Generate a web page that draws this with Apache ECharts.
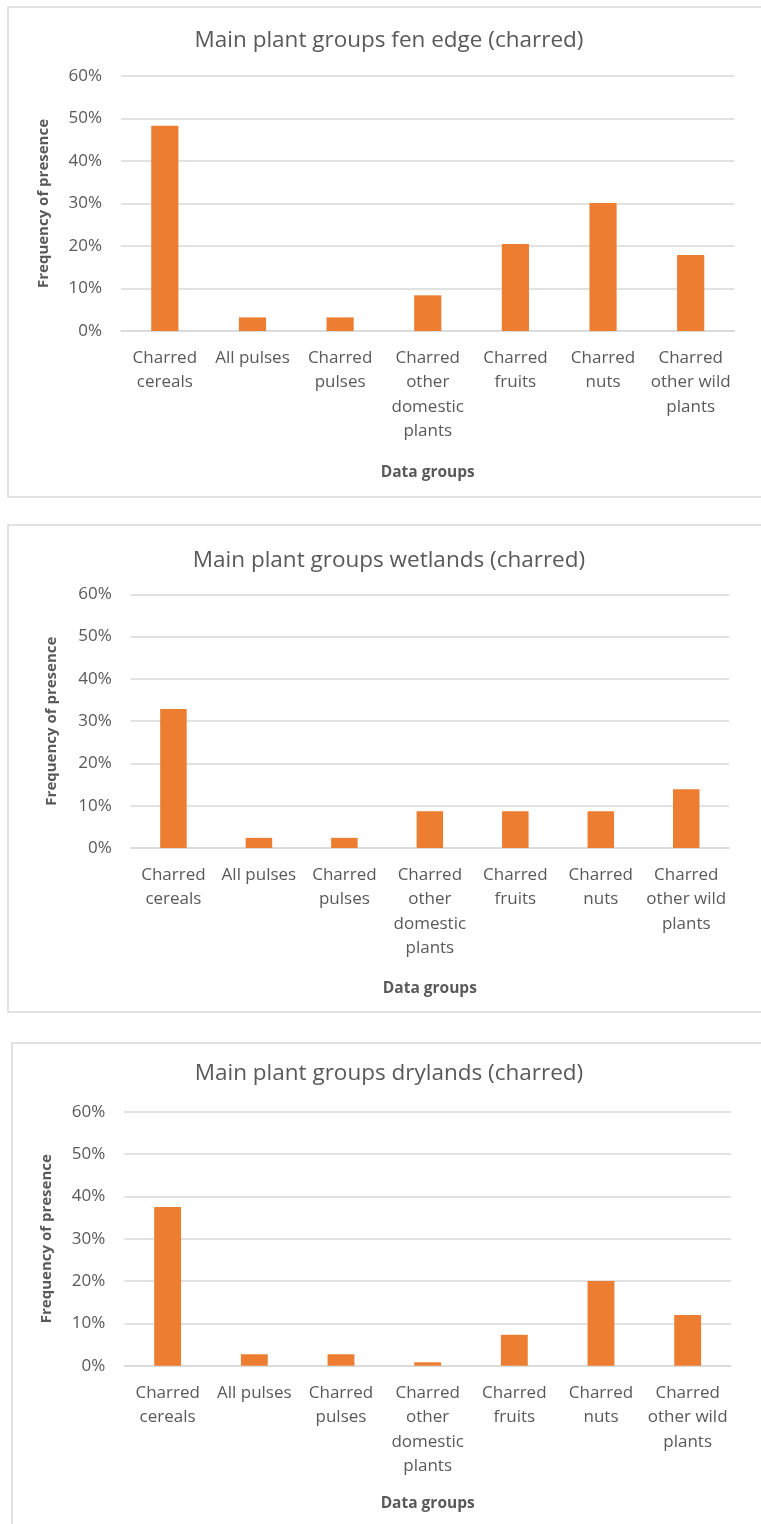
<!DOCTYPE html>
<html>
<head>
<meta charset="utf-8">
<title>Main plant groups (charred)</title>
<script src="https://cdn.jsdelivr.net/npm/echarts@6/dist/echarts.min.js"></script>
<style>
  html, body { margin: 0; padding: 0; background: #ffffff; }
  #chart { width: 761px; height: 1524px; }
</style>
</head>
<body>
<div id="chart"></div>
<script>
// Category labels (line breaks as shown under each bar)
const categories = [
  'Charred\ncereals',
  'All pulses',
  'Charred\npulses',
  'Charred\nother\ndomestic\nplants',
  'Charred\nfruits',
  'Charred\nnuts',
  'Charred\nother wild\nplants'
];

// Frequency of presence (%) per landscape zone
const fenEdge  = [48.3, 3.2, 3.2, 8.4, 20.5, 30.1, 17.9];
const wetlands = [32.9, 2.4, 2.4, 8.7, 8.7, 8.7, 13.9];
const drylands = [37.5, 2.7, 2.7, 0.8, 7.3, 20.0, 12.0];

const titles = [
  'Main plant groups fen edge (charred)',
  'Main plant groups wetlands (charred)',
  'Main plant groups drylands (charred)'
];
const yAxisTitle = 'Frequency of presence';
const xAxisTitle = 'Data groups';

// Value axis range (percent)
const yMin = 0, yMax = 60, yStep = 10;

const FONT = '"Open Sans", "Noto Sans", sans-serif';
const TEXT = '#595959';
const GRID_LINE = '#d9d9d9';
const BAR = '#ED7D31';

// Panel layout: frame box, plot area and label offsets
const panels = [
  { data: fenEdge,  box: { x: 8,  y: 7,    h: 490 }, titleY: 29,   grid: { left: 121,   top: 76,    width: 613.5, height: 255 },   nameGap: 70, xNameGap: 134 },
  { data: wetlands, box: { x: 8,  y: 525,  h: 487 }, titleY: 549,  grid: { left: 130.7, top: 594.3, width: 598.3, height: 253.7 }, nameGap: 71, xNameGap: 133 },
  { data: drylands, box: { x: 12, y: 1043, h: 520 }, titleY: 1062, grid: { left: 124.3, top: 1111.7, width: 606.7, height: 254 }, nameGap: 70, xNameGap: 130 }
];

const chart = echarts.init(document.getElementById('chart'), null, { renderer: 'canvas' });

const option = {
  animation: false,
  backgroundColor: '#ffffff',
  textStyle: { fontFamily: FONT },
  title: panels.map((p, i) => ({
    text: titles[i],
    left: 389,
    textAlign: 'center',
    top: p.titleY,
    padding: 0,
    textStyle: { fontFamily: FONT, fontSize: 22.5, fontWeight: 'normal', color: TEXT }
  })),
  graphic: panels.map(p => ({
    type: 'rect',
    silent: true,
    z: -1,
    shape: { x: p.box.x, y: p.box.y, width: 800, height: p.box.h },
    style: { fill: 'none', stroke: GRID_LINE, lineWidth: 1.5 }
  })),
  grid: panels.map(p => ({
    left: p.grid.left, top: p.grid.top, width: p.grid.width, height: p.grid.height,
    containLabel: false
  })),
  xAxis: panels.map((p, i) => ({
    type: 'category',
    gridIndex: i,
    data: categories,
    name: xAxisTitle,
    nameLocation: 'middle',
    nameGap: p.xNameGap,
    nameTextStyle: { fontFamily: FONT, fontSize: 15.5, fontWeight: 'bold', color: TEXT },
    axisLine: { show: true, lineStyle: { color: GRID_LINE, width: 1.5 } },
    axisTick: { show: false },
    axisLabel: {
      interval: 0, margin: 15, fontFamily: FONT, fontSize: 17,
      lineHeight: 24.4, color: TEXT, align: 'center', verticalAlign: 'top'
    }
  })),
  yAxis: panels.map((p, i) => ({
    type: 'value',
    gridIndex: i,
    min: yMin, max: yMax, interval: yStep,
    name: yAxisTitle,
    nameLocation: 'middle',
    nameGap: p.nameGap,
    nameRotate: 90,
    nameTextStyle: { fontFamily: FONT, fontSize: 15, fontWeight: 'bold', color: TEXT },
    axisLine: { show: false },
    axisTick: { show: false },
    axisLabel: { formatter: '{value}%', margin: 19, fontFamily: FONT, fontSize: 17, color: TEXT },
    splitLine: { show: true, lineStyle: { color: GRID_LINE, width: 1.5 } }
  })),
  series: panels.map((p, i) => ({
    type: 'bar',
    xAxisIndex: i,
    yAxisIndex: i,
    data: p.data,
    barWidth: '31%',
    itemStyle: { color: BAR },
    silent: true
  }))
};

chart.setOption(option);
</script>
</body>
</html>
